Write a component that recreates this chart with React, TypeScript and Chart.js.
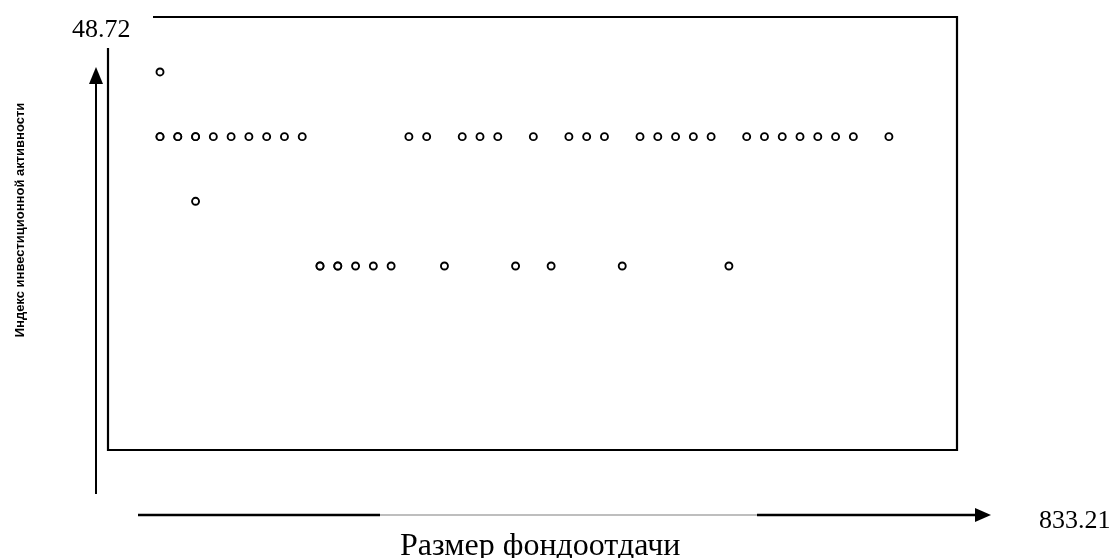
import React, { useEffect, useRef } from "react";
import { Chart, registerables } from "chart.js";

Chart.register(...registerables);

// Observation number along "Размер фондоотдачи" (ordered) and level of the investment activity index
const fondX = [
  1, 1, 1, 2, 2, 3, 3, 3, 4, 5, 6, 7, 8, 9,
  10, 10, 11, 11, 12, 13, 14,
  15, 16, 17, 18, 19, 20, 21, 22, 23, 24, 25, 26, 27,
  28, 29, 30, 31, 32, 33, 34, 35, 36, 37, 38, 39, 40, 42,
];
const activityY = [
  4, 3, 3, 3, 3, 3, 3, 2, 3, 3, 3, 3, 3, 3,
  1, 1, 1, 1, 1, 1, 1,
  3, 3, 1, 3, 3, 3, 1, 3, 1, 3, 3, 3, 1,
  3, 3, 3, 3, 3, 1, 3, 3, 3, 3, 3, 3, 3, 3,
];

// Axis end labels and titles
const yTickLabels = ["48.72"];
const xTickLabels = ["833.21"];
const xTitle = "Размер фондоотдачи";
const yTitle = "Индекс инвестиционной активности";

const decorPlugin = {
  id: "decor",
  afterDraw(chart: any) {
    const { ctx, chartArea } = chart;
    const { left, right, top, bottom } = chartArea;
    ctx.save();
    ctx.strokeStyle = "#000";
    ctx.fillStyle = "#000";
    ctx.lineCap = "butt";

    // frame (scanned, with a small gap at the top-left corner)
    ctx.lineWidth = 2.2;
    ctx.beginPath();
    ctx.moveTo(left + 45, top);
    ctx.lineTo(right, top);
    ctx.lineTo(right, bottom);
    ctx.lineTo(left, bottom);
    ctx.lineTo(left, top + 31);
    ctx.stroke();

    // vertical arrow
    const ax = left - 12;
    ctx.lineWidth = 2;
    ctx.beginPath();
    ctx.moveTo(ax, top + 66);
    ctx.lineTo(ax, bottom + 44);
    ctx.stroke();
    ctx.beginPath();
    ctx.moveTo(ax, top + 50);
    ctx.lineTo(ax - 7, top + 67);
    ctx.lineTo(ax + 7, top + 67);
    ctx.closePath();
    ctx.fill();

    // horizontal arrow
    const ay = bottom + 65;
    ctx.lineWidth = 2.5;
    ctx.beginPath();
    ctx.moveTo(left + 30, ay);
    ctx.lineTo(left + 272, ay);
    ctx.stroke();
    ctx.strokeStyle = "#a8a8a8";
    ctx.lineWidth = 1.5;
    ctx.beginPath();
    ctx.moveTo(left + 272, ay);
    ctx.lineTo(left + 649, ay);
    ctx.stroke();
    ctx.strokeStyle = "#000";
    ctx.lineWidth = 2.5;
    ctx.beginPath();
    ctx.moveTo(left + 649, ay);
    ctx.lineTo(right + 19, ay);
    ctx.stroke();
    ctx.beginPath();
    ctx.moveTo(right + 34, ay);
    ctx.lineTo(right + 18, ay - 7);
    ctx.lineTo(right + 18, ay + 7);
    ctx.closePath();
    ctx.fill();

    // end labels
    ctx.textBaseline = "alphabetic";
    ctx.textAlign = "left";
    ctx.font = '26px "Liberation Serif", "Times New Roman", serif';
    ctx.fillText(yTickLabels[0], left - 36, top + 20);
    ctx.fillText(xTickLabels[0], right + 82, ay + 13);

    // x title
    ctx.font = '32px "Liberation Serif", "Times New Roman", serif';
    ctx.fillText(xTitle, left + 292, bottom + 105);

    // y title (rotated)
    ctx.font = 'bold 13px "Liberation Sans", Arial, sans-serif';
    ctx.textAlign = "center";
    ctx.translate(left - 84, top + 203);
    ctx.rotate(-Math.PI / 2);
    ctx.fillText(yTitle, 0, 0);
    ctx.restore();
  },
};

export default function App() {
  const ref = useRef<HTMLCanvasElement | null>(null);

  useEffect(() => {
    if (!ref.current) return;
    const points = fondX.map((x, i) => ({ x, y: activityY[i] }));
    const chart = new Chart(ref.current, {
      type: "scatter",
      data: {
        datasets: [
          {
            data: points,
            pointStyle: "circle",
            pointRadius: 3.5,
            pointBorderWidth: 1.9,
            borderColor: "#000",
            backgroundColor: "#fff",
            pointHoverRadius: 3.5,
          },
        ],
      },
      options: {
        animation: false,
        responsive: true,
        maintainAspectRatio: false,
        layout: { padding: { left: 108, top: 17, right: 155, bottom: 108 } },
        plugins: { legend: { display: false }, tooltip: { enabled: false }, title: { display: false } },
        scales: {
          x: { type: "linear", min: -1.925, max: 45.83, display: false },
          y: { type: "linear", min: -1.845, max: 4.85, display: false },
        },
      },
      plugins: [decorPlugin],
    });
    return () => chart.destroy();
  }, []);

  return (
    <div style={{ position: "absolute", left: 0, top: 0, width: 1112, height: 558, background: "#fff" }}>
      <canvas ref={ref} />
    </div>
  );
}
